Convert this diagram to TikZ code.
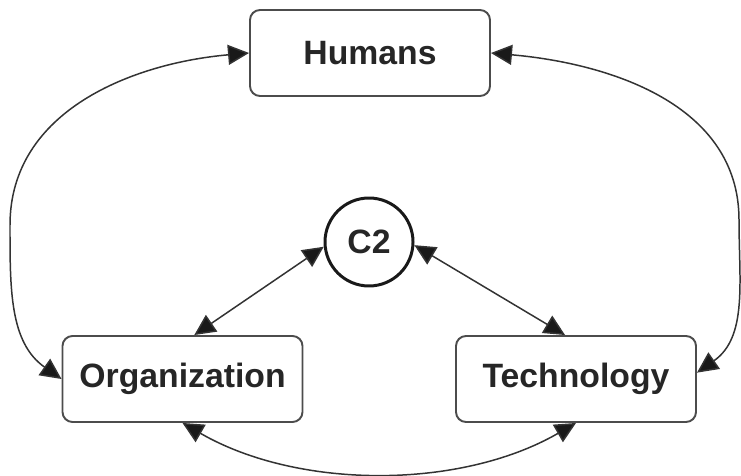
\documentclass[tikz,border=0pt]{standalone}
\usepackage{fontspec}
\setmainfont{Liberation Sans}
\usetikzlibrary{arrows.meta}

\begin{document}
\begin{tikzpicture}[
	box/.style={draw=black!70, line width=1.1pt, rounded corners=0.2cm, minimum width=4.8cm, minimum height=1.72cm, font=\fontsize{19.2}{23}\selectfont\bfseries, text=black!85},
	hub/.style={circle, draw=black!90, line width=1.7pt, minimum size=1.76cm, font=\fontsize{19.2}{23}\selectfont\bfseries, text=black!85},
	link/.style={draw=black!80, line width=0.85pt, {Triangle[length=0.42cm,width=0.4cm,fill=black!90]}-{Triangle[length=0.42cm,width=0.4cm,fill=black!90]}}
	]
	\useasboundingbox (0,0) rectangle (14.82,9.5);
	\node[box] (humans) at (7.40,8.44) {Humans};
	\node[hub] (ctwo) at (7.38,4.66) {C2};
	\node[box] (org) at (3.65,1.92) {Organization};
	\node[box] (tech) at (11.52,1.92) {Technology};
	\coordinate (leftbend) at (0.20,5.00);
	\coordinate (rightbend) at (14.78,5.10);
	\draw[link]
		(humans.west) to[out=185,in=90] (leftbend) to[out=-90,in=145] (org.west);
	\draw[link]
		(humans.east) to[out=-5,in=90] (rightbend) to[out=-90,in=35] (tech.3);
	\draw[link] (ctwo.186) -- (org.75);
	\draw[link] (ctwo.-4) -- (tech.104);
	\draw[link] (org.south) to[out=-30,in=-150,looseness=0.87] (tech.south);
\end{tikzpicture}
\end{document}
